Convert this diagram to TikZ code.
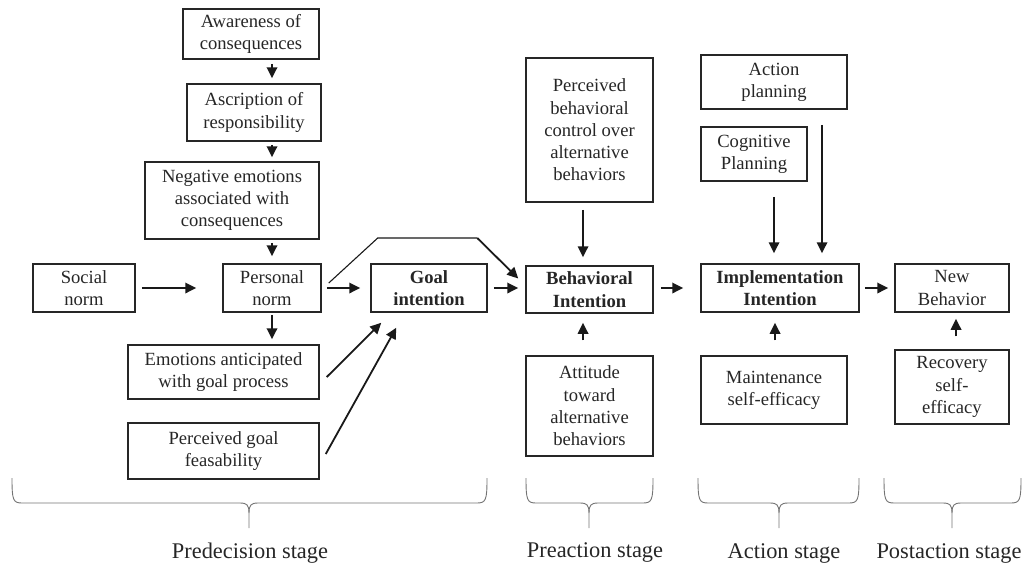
\documentclass[tikz,border=0pt]{standalone}
\usepackage{fontspec}
\setmainfont{Liberation Serif}
\usetikzlibrary{arrows.meta,calc}
\begin{document}
\begin{tikzpicture}[x=1pt,y=-1pt,
  box/.style={draw=black!85,line width=1.5pt,inner sep=0pt,align=center,
    text=black!85,font=\fontsize{18.6}{22.3}\selectfont},
  arr/.style={draw=black!90,line width=1.8pt,-{Triangle[length=11pt,width=10.5pt]}},
  thinarr/.style={draw=black!90,line width=1.1pt},
  brace/.style={draw=black!55,line width=0.9pt},
  stage/.style={font=\fontsize{22.4}{26}\selectfont,text=black!85}]
\useasboundingbox (0,0) rectangle (1036,568);

% predecision stage boxes
\node[box,minimum width=136,minimum height=50] (aw) at (251,34) {Awareness of\\consequences};
\node[box,minimum width=134,minimum height=57] (as) at (254,112.5) {Ascription of\\responsibility};
\node[box,minimum width=174,minimum height=77] (ne) at (232,200.5) {Negative emotions\\associated with\\consequences};
\node[box,minimum width=102,minimum height=48] (sn) at (84,288) {Social\\norm};
\node[box,minimum width=98,minimum height=48] (pn) at (272,288) {Personal\\norm};
\node[box,minimum width=116,minimum height=48] (gi) at (429,288) {\bfseries Goal\\\bfseries intention};
\node[box,minimum width=191,minimum height=54] (em) at (223.5,372) {Emotions anticipated\\with goal process};
\node[box,minimum width=191,minimum height=56] (pg) at (223.5,451) {Perceived goal\\feasability};

% preaction stage boxes
\node[box,minimum width=127,minimum height=144] (pbc) at (589.5,130) {Perceived\\behavioral\\control over\\alternative\\behaviors};
\node[box,minimum width=127,minimum height=47] (bi) at (589.5,289.5) {\bfseries Behavioral\\\bfseries Intention};
\node[box,minimum width=127,minimum height=100] (at) at (589.5,406) {Attitude\\toward\\alternative\\behaviors};

% action stage boxes
\node[box,minimum width=146,minimum height=54] (ap) at (774,82) {Action\\planning};
\node[box,minimum width=106,minimum height=54] (cp) at (754,154) {Cognitive\\Planning};
\node[box,minimum width=158,minimum height=48] (ii) at (780,288) {\bfseries Implementation\\\bfseries Intention};
\node[box,minimum width=146,minimum height=68] (ms) at (774,390) {Maintenance\\self-efficacy};

% postaction stage boxes
\node[box,minimum width=114,minimum height=48] (nb) at (952,288) {New\\Behavior};
\node[box,minimum width=114,minimum height=74] (rs) at (952,387) {Recovery\\self-\\efficacy};

% vertical chain into personal norm
\draw[arr,shorten <=4pt,shorten >=5pt] (aw.south -| pn.north) -- (as.north -| pn.north);
\draw[arr,shorten <=3pt,shorten >=4pt] (as.south -| pn.north) -- (ne.north -| pn.north);
\draw[arr,shorten <=3pt,shorten >=7pt] (ne.south -| pn.north) -- (pn.north);
\draw[arr,shorten <=2pt,shorten >=5pt] (pn.south) -- (em.north -| pn.south);

% main horizontal chain
\draw[arr,shorten <=6pt,shorten >=26pt] (sn.east) -- (pn.west);
\draw[arr,shorten <=5pt,shorten >=10pt] (pn.east) -- (gi.west);
\draw[arr,shorten <=6pt,shorten >=7pt] (gi.east) -- (gi.east -| bi.west);
\draw[arr,shorten <=7pt,shorten >=17pt] (bi.east |- ii.west) -- (ii.west);
\draw[arr,shorten <=5pt,shorten >=6pt] (ii.east) -- (nb.west);

% bypass from personal norm to behavioral intention
\draw[thinarr] ($(pn.east)+(7,-5)$) -- ($(pn.east)+(56,-50)$) -- ($(bi.west)+(-48,-51.5)$);
\draw[arr] ($(bi.west)+(-48,-51.5)$) -- ($(bi.west)+(-7,-11)$);

% diagonal inputs to goal intention
\draw[arr] ($(em.east)+(7,5)$) -- ($(gi.south west)+(11,10)$);
\draw[arr] ($(pg.east)+(6,3)$) -- ($(gi.south west)+(26,15)$);

% inputs to behavioral intention
\draw[arr,shorten <=7pt,shorten >=8pt] ($(pbc.south)+(-6.5,0)$) -- ($(bi.north)+(-6.5,0)$);
\draw[arr,shorten <=15pt,shorten >=9pt] ($(at.north)+(-6.5,0)$) -- ($(bi.south)+(-6.5,0)$);

% inputs to implementation intention
\draw[arr,shorten <=15pt,shorten >=10pt] ($(cp.south)+(20,0)$) -- ($(ii.north)+(-6,0)$);
\draw[arr,shorten <=15pt,shorten >=10pt] ($(ap.south)+(48,0)$) -- ($(ii.north)+(42,0)$);
\draw[arr,shorten <=15pt,shorten >=10pt] ($(ms.north)+(1,0)$) -- ($(ii.south)+(-5,0)$);

% input to new behavior
\draw[arr,shorten <=13pt,shorten >=6pt] ($(rs.north)+(4,0)$) -- ($(nb.south)+(4,0)$);

% stage braces
\foreach \xa/\xm/\xb/\nm in {12/249/487/pre, 526/589/653/prea, 698/779/859/act, 884/952/1021/post}{
  \draw[brace] (\xa,478) .. controls (\xa,500) and (\xa+1,503) .. (\xa+10,503)
    -- (\xm-9,503) .. controls (\xm-2,503) and (\xm,505) .. (\xm,513) -- (\xm,528);
  \draw[brace] (\xb,478) .. controls (\xb,500) and (\xb-1,503) .. (\xb-10,503)
    -- (\xm+9,503) .. controls (\xm+2,503) and (\xm,505) .. (\xm,513);
  \coordinate (tip-\nm) at (\xm,528);
}

% stage labels
\node[stage] (s1) at (250,553) {Predecision stage};
\node[stage] (s2) at (595,552) {Preaction stage};
\node[stage] (s3) at (784,553) {Action stage};
\node[stage] (s4) at (949,553) {Postaction stage};
\end{tikzpicture}
\end{document}
